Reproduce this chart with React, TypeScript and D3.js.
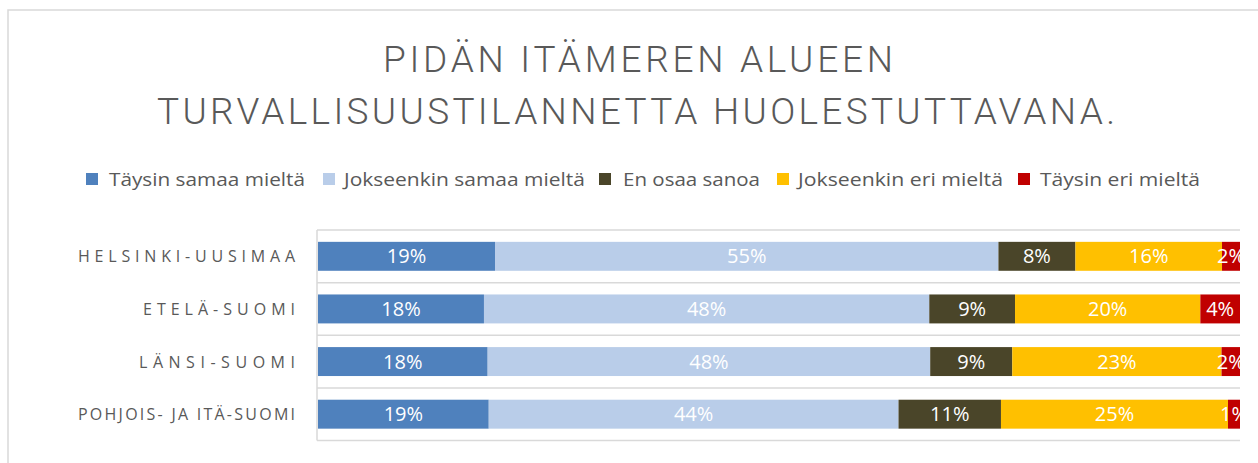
import React from "react";
import * as d3 from "d3";

const categories = ["HELSINKI-UUSIMAA", "ETELÄ-SUOMI", "LÄNSI-SUOMI", "POHJOIS- JA ITÄ-SUOMI"];
const seriesNames = ["Täysin samaa mieltä", "Jokseenkin samaa mieltä", "En osaa sanoa", "Jokseenkin eri mieltä", "Täysin eri mieltä"];
const seriesColors = ["#4F81BD", "#B9CDE9", "#4A4529", "#FFC000", "#C00000"];
const taysinSamaa = [19.2, 18.0, 18.4, 18.5];
const jokseenkinSamaa = [54.6, 48.3, 48.0, 44.4];
const enOsaa = [8.35, 9.3, 8.9, 11.1];
const jokseenkinEri = [15.9, 20.1, 22.7, 24.6];
const taysinEri = [1.95, 4.3, 2.0, 1.3];
const titleLines = ["PIDÄN ITÄMEREN ALUEEN", "TURVALLISUUSTILANNETTA HUOLESTUTTAVANA."];

const series = [taysinSamaa, jokseenkinSamaa, enOsaa, jokseenkinEri, taysinEri];

const W = 1258, H = 463;
const plotLeft = 318, plotRight = 1240, plotTop = 230, plotBottom = 440.5;
const textColor = "#595959";
const gridColor = "#D9D9D9";
const font = "'Open Sans', 'Noto Sans', sans-serif";

const legendItems = [
  { sq: 86, tx: 109, tw: 196 },
  { sq: 323, tx: 344, tw: 241 },
  { sq: 599, tx: 623, tw: 137 },
  { sq: 777, tx: 798, tw: 205 },
  { sq: 1018, tx: 1040, tw: 160 },
];
const catLabelWidths = [217, 152, 156, 217];

export default function App() {
  const y = d3.scaleBand<string>().domain(categories).range([plotTop, plotBottom]).paddingInner(0.45).paddingOuter(0.225);
  const x = d3.scaleLinear().domain([0, 1]).range([plotLeft, plotRight]);
  const pct = d3.format(".0%");

  const rows = categories.map((c, i) => {
    const vals = series.map((s) => s[i]);
    const total = d3.sum(vals);
    let acc = 0;
    return vals.map((v, j) => {
      const start = acc / total;
      acc += v;
      return { cat: c, j, v, start, end: acc / total };
    });
  });

  const gridYs = [plotTop, ...categories.map((c) => (y(c) as number) + y.bandwidth() + (y.step() - y.bandwidth()) / 2)];

  return (
    <svg width={W} height={H} style={{ position: "absolute", left: 0, top: 0, background: "#fff" }} fontFamily={font}>
      <defs>
        <clipPath id="plotclip">
          <rect x={0} y={0} width={plotRight} height={H} />
        </clipPath>
      </defs>
      <rect x={0} y={0} width={W} height={H} fill="#fff" />
      <path d={`M8,${H} V10 H${W}`} fill="none" stroke={gridColor} strokeWidth={1.5} />
      {titleLines.map((t, i) => (
        <text key={i} x={638 - i * 2} y={72 + i * 52} textAnchor="middle" fontSize={37} fontWeight={300}
          fontFamily="Roboto, 'Open Sans', sans-serif" fill={textColor}
          textLength={i === 0 ? 510 : 958} lengthAdjust="spacing">{t}</text>
      ))}
      {seriesNames.map((n, i) => (
        <g key={n}>
          <rect x={legendItems[i].sq} y={173} width={12} height={12} fill={seriesColors[i]} />
          <text x={legendItems[i].tx} y={186} fontSize={19} fill={textColor} textLength={legendItems[i].tw} lengthAdjust="spacingAndGlyphs">{n}</text>
        </g>
      ))}
      <g clipPath="url(#plotclip)">
        {gridYs.map((gy, i) => (
          <line key={i} x1={plotLeft - 1} x2={plotRight} y1={gy} y2={gy} stroke={gridColor} strokeWidth={1.5} />
        ))}
        <line x1={plotLeft - 1} x2={plotLeft - 1} y1={plotTop} y2={plotBottom} stroke={gridColor} strokeWidth={1.5} />
        {rows.map((r) =>
          r.map((s) => (
            <rect key={s.cat + s.j} x={x(s.start)} y={y(s.cat)} width={x(s.end) - x(s.start)} height={y.bandwidth()} fill={seriesColors[s.j]} />
          ))
        )}
        {rows.map((r) =>
          r.map((s) => (
            <text key={"l" + s.cat + s.j} x={(x(s.start) + x(s.end)) / 2} y={(y(s.cat) as number) + y.bandwidth() / 2 + 7}
              textAnchor="middle" fontSize={20} fill="#fff">{pct(s.v / 100)}</text>
          ))
        )}
      </g>
      {categories.map((c, i) => (
        <text key={c} x={295} y={(y(c) as number) + y.bandwidth() / 2 + 6} textAnchor="end" fontSize={16} fill={textColor}
          textLength={catLabelWidths[i]} lengthAdjust="spacing">{c}</text>
      ))}
    </svg>
  );
}
